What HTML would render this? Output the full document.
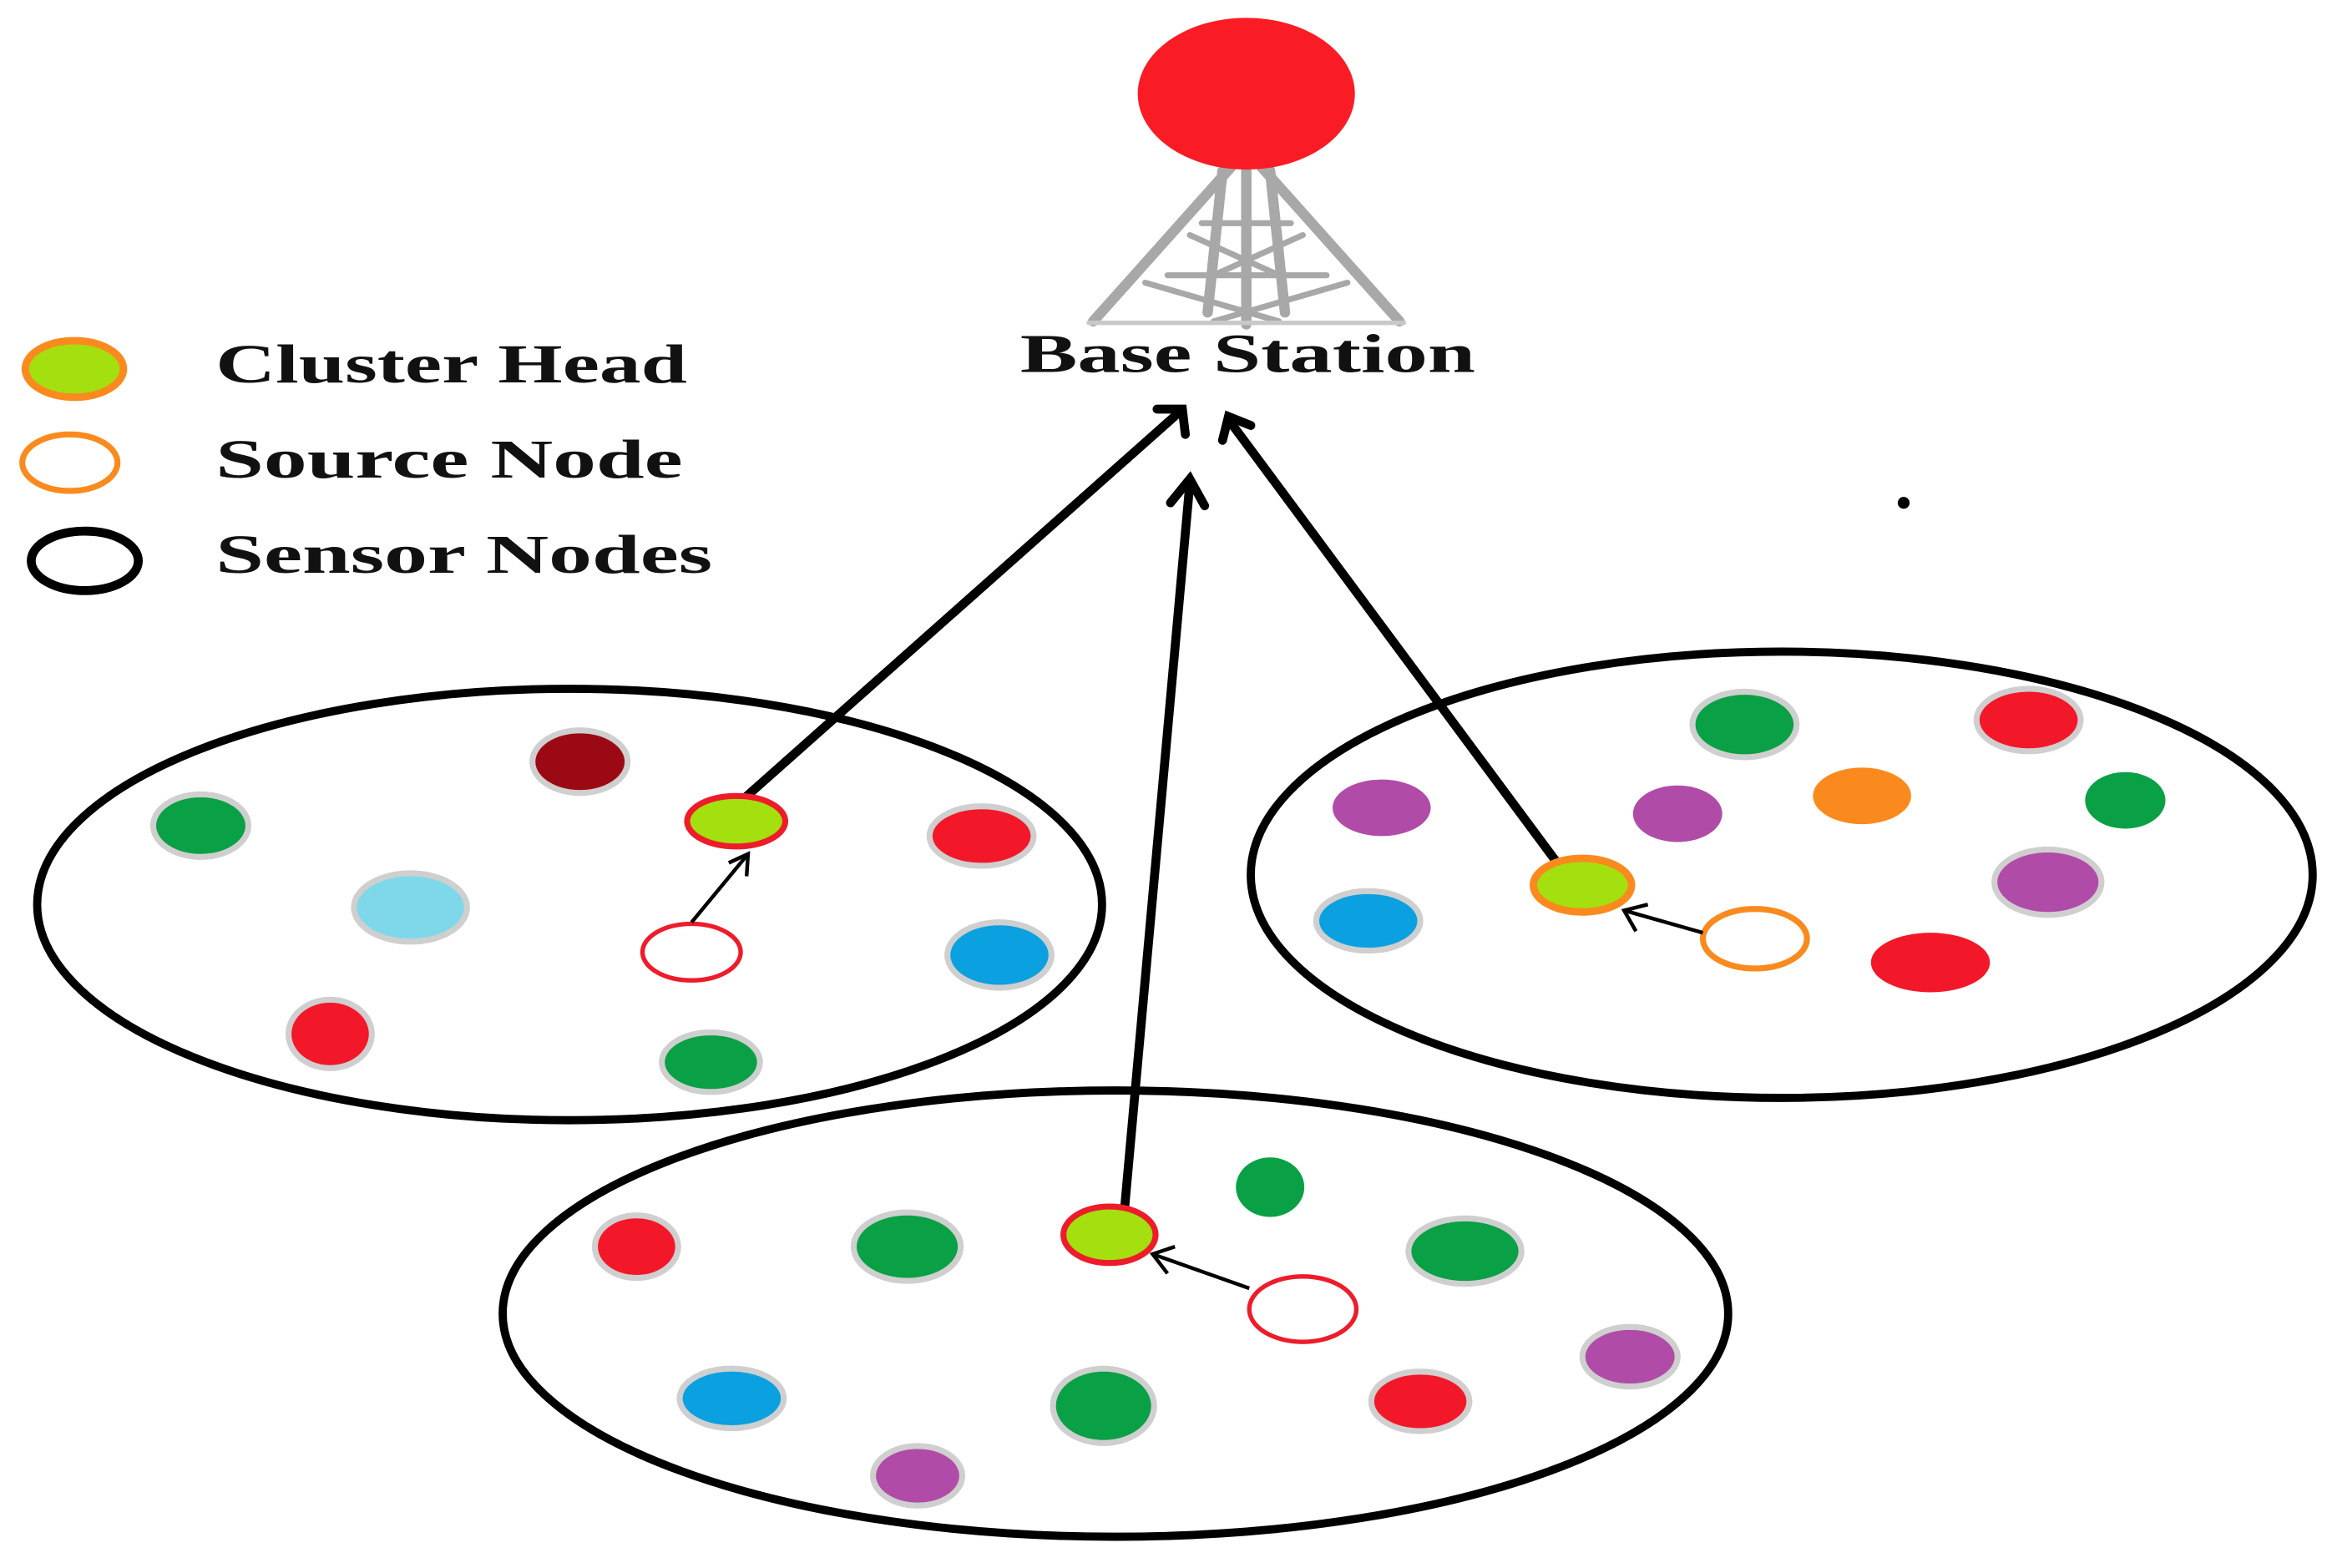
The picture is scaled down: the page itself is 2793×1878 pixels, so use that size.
<!DOCTYPE html>
<html><head><meta charset="utf-8"><style>html,body{margin:0;padding:0;background:#fff}svg{display:block}</style></head>
<body>
<svg width="2793" height="1878" viewBox="0 0 1568 1054" preserveAspectRatio="none" xmlns="http://www.w3.org/2000/svg">
<rect width="1568" height="1054" fill="#fff"/>
<!-- tower -->
<g stroke="#a8a8a8" stroke-width="7" fill="none" stroke-linecap="round">
<line x1="838" y1="110" x2="838" y2="218"/>
<line x1="828" y1="112" x2="735" y2="216"/>
<line x1="848" y1="112" x2="941" y2="216"/>
<line x1="822" y1="115" x2="812" y2="210"/>
<line x1="854" y1="115" x2="864" y2="210"/>
<line x1="808" y1="150" x2="868" y2="150" stroke-width="4"/>
<line x1="800" y1="158" x2="860" y2="185" stroke-width="4"/>
<line x1="876" y1="158" x2="816" y2="185" stroke-width="4"/>
<line x1="785" y1="185" x2="892" y2="185" stroke-width="4"/>
<line x1="770" y1="190" x2="860" y2="216" stroke-width="4"/>
<line x1="906" y1="190" x2="816" y2="216" stroke-width="4"/>
<line x1="732" y1="217" x2="944" y2="217" stroke-width="3" stroke="#c8c8c8"/>
</g>
<ellipse cx="838" cy="63" rx="73" ry="51" fill="#fa1c24"/>
<g font-family="Liberation Serif, serif" font-size="37" font-weight="bold" fill="#111" lengthAdjust="spacingAndGlyphs">
<text x="686" y="250" textLength="306" lengthAdjust="spacingAndGlyphs">Base Station</text>
<text x="145" y="257" textLength="317" lengthAdjust="spacingAndGlyphs">Cluster Head</text>
<text x="145" y="321" textLength="314" lengthAdjust="spacingAndGlyphs">Source Node</text>
<text x="145" y="385" textLength="334" lengthAdjust="spacingAndGlyphs">Sensor Nodes</text>
</g>
<!-- legend -->
<ellipse cx="50" cy="248" rx="33" ry="19" fill="#a4df0f" stroke="#fb8a1e" stroke-width="5"/>
<ellipse cx="47" cy="311" rx="32" ry="19" fill="#fff" stroke="#fb8a1e" stroke-width="4"/>
<ellipse cx="57" cy="377" rx="36" ry="20" fill="#fff" stroke="#000" stroke-width="6"/>
<circle cx="1280" cy="338" r="4" fill="#000"/>
<!-- clusters -->
<g fill="none" stroke="#000" stroke-width="5.5">
<ellipse cx="383" cy="608" rx="358" ry="145"/>
<ellipse cx="750" cy="883" rx="412" ry="150"/>
<ellipse cx="1198" cy="588" rx="357" ry="150"/>
</g>
<!-- nodes -->
<g stroke="#cfcfcf" stroke-width="4">
<ellipse cx="390" cy="512" rx="32" ry="21" fill="#9b0a14"/>
<ellipse cx="135" cy="555" rx="32" ry="21" fill="#0aa045"/>
<ellipse cx="276" cy="610" rx="38" ry="23" fill="#7fd8ea"/>
<ellipse cx="660" cy="562" rx="35" ry="20" fill="#f2182a"/>
<ellipse cx="672" cy="642" rx="35" ry="22" fill="#0ba0e0"/>
<ellipse cx="222" cy="695" rx="28" ry="23" fill="#f2182a"/>
<ellipse cx="478" cy="714" rx="33" ry="20" fill="#0aa045"/>
<ellipse cx="428" cy="838" rx="28" ry="21" fill="#f2182a"/>
<ellipse cx="610" cy="838" rx="36" ry="23" fill="#0aa045"/>
<ellipse cx="854" cy="798" rx="23" ry="20" fill="#0aa045" stroke="none"/>
<ellipse cx="985" cy="841" rx="38" ry="22" fill="#0aa045"/>
<ellipse cx="492" cy="940" rx="35" ry="20" fill="#0ba0e0"/>
<ellipse cx="742" cy="945" rx="34" ry="25" fill="#0aa045"/>
<ellipse cx="955" cy="942" rx="33" ry="20" fill="#f2182a"/>
<ellipse cx="1096" cy="912" rx="32" ry="20" fill="#b04ca8"/>
<ellipse cx="617" cy="992" rx="30" ry="20" fill="#b04ca8"/>
<ellipse cx="1173" cy="487" rx="35" ry="22" fill="#0aa045"/>
<ellipse cx="1364" cy="484" rx="35" ry="21" fill="#f2182a"/>
<ellipse cx="929" cy="543" rx="33" ry="19" fill="#b04ca8" stroke="none"/>
<ellipse cx="1128" cy="547" rx="30" ry="19" fill="#b04ca8" stroke="none"/>
<ellipse cx="1252" cy="535" rx="33" ry="19" fill="#fb8a1e" stroke="none"/>
<ellipse cx="1429" cy="538" rx="27" ry="19" fill="#0aa045" stroke="none"/>
<ellipse cx="920" cy="619" rx="35" ry="20" fill="#0ba0e0"/>
<ellipse cx="1377" cy="593" rx="36" ry="22" fill="#b04ca8"/>
<ellipse cx="1298" cy="647" rx="40" ry="20" fill="#f2182a" stroke="none"/>
</g>
<!-- source nodes -->
<ellipse cx="465" cy="640" rx="33" ry="19" fill="#fff" stroke="#ee1c2a" stroke-width="3"/>
<ellipse cx="876" cy="880" rx="36" ry="22" fill="#fff" stroke="#ee1c2a" stroke-width="3"/>
<ellipse cx="1180" cy="631" rx="35" ry="20" fill="#fff" stroke="#fb8a1e" stroke-width="4"/>
<!-- thin arrows -->
<g stroke="#000" stroke-width="2.5" fill="none">
<line x1="465" y1="620" x2="503" y2="574"/><polyline points="490,580 503,574 502,589"/>
<line x1="840" y1="866" x2="775" y2="843"/><polyline points="785,856 775,843 790,838"/>
<line x1="1145" y1="627" x2="1092" y2="612"/><polyline points="1100,626 1092,612 1108,608"/>
</g>
<!-- thick arrows -->
<g stroke="#000" stroke-width="6" fill="none" stroke-linecap="round" stroke-linejoin="miter">
<line x1="500" y1="537" x2="793" y2="277"/><polyline points="778,275 795,275 797,292"/>
<line x1="756" y1="814" x2="800" y2="325"/><polyline points="787,338 800,322 810,340"/>
<line x1="1047" y1="580" x2="826" y2="282"/><polyline points="822,296 826,280 841,286"/>
</g>
<!-- cluster heads -->
<ellipse cx="495" cy="552" rx="33" ry="17" fill="#a4df0f" stroke="#ee1c2a" stroke-width="4"/>
<ellipse cx="746" cy="830" rx="31" ry="19" fill="#a4df0f" stroke="#ee1c2a" stroke-width="4"/>
<ellipse cx="1064" cy="595" rx="33" ry="18" fill="#a4df0f" stroke="#fb8a1e" stroke-width="5"/>
</svg>
</body></html>
